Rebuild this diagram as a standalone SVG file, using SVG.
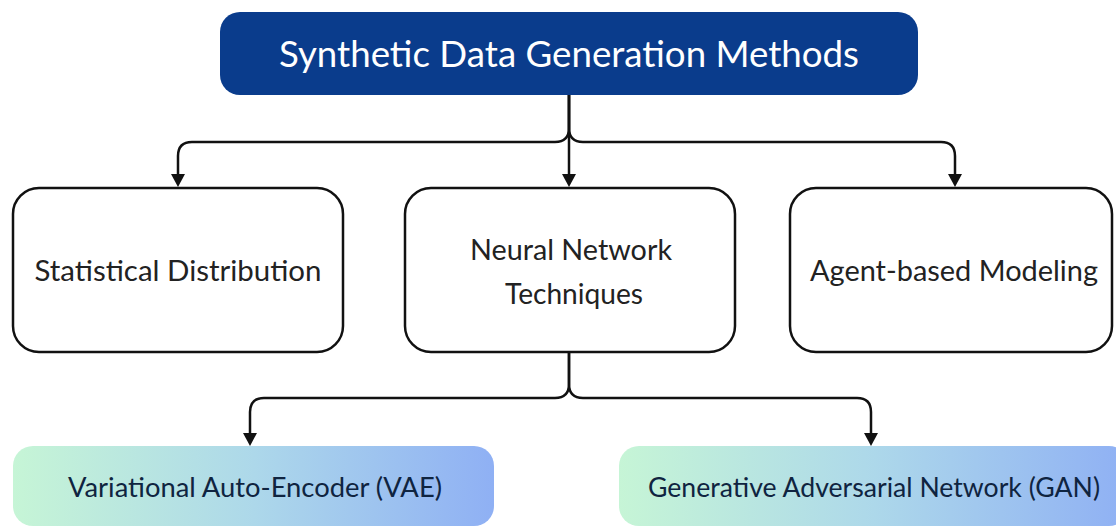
<svg xmlns="http://www.w3.org/2000/svg" width="1116" height="526" viewBox="0 0 1116 526">
<style>
.box{fill:#ffffff;stroke:#111111;stroke-width:2.5}
.lbl{font-family:Lato,"Open Sans","DejaVu Sans",sans-serif;font-size:29px;fill:#222222;text-anchor:middle}
.leaf{font-family:Lato,"Open Sans","DejaVu Sans",sans-serif;font-size:27px;fill:#0f2440;text-anchor:middle}
.conn{fill:none;stroke:#111111;stroke-width:2.5}
.head{fill:#111111}
</style>
<defs>
<linearGradient id="grad" x1="0" y1="0" x2="1" y2="0">
<stop offset="0" stop-color="#c6f5d6"/>
<stop offset="0.5" stop-color="#add8ea"/>
<stop offset="1" stop-color="#8fb0f4"/>
</linearGradient>
</defs>
<rect width="1116" height="526" fill="#ffffff"/>
<g id="connectors">
<path class="conn" d="M569,95 V128 Q569,142 555,142 H192 Q178,142 178,156 V175"/>
<path class="conn" d="M569,95 V128 Q569,142 583,142 H941 Q955,142 955,156 V175"/>
<path class="conn" d="M569,95 V175"/>
<path class="conn" d="M569,352 V384 Q569,398 555,398 H264 Q250,398 250,412 V434"/>
<path class="conn" d="M569,352 V384 Q569,398 583,398 H857 Q871,398 871,412 V434"/>
<path class="head" d="M171,174 L185,174 L178,187 Z"/>
<path class="head" d="M562,174 L576,174 L569,187 Z"/>
<path class="head" d="M948,174 L962,174 L955,187 Z"/>
<path class="head" d="M243,433 L257,433 L250,446 Z"/>
<path class="head" d="M864,433 L878,433 L871,446 Z"/>
</g>
<g id="root">
<rect x="220" y="12" width="698" height="83" rx="20" fill="#0a3c8c"/>
<text x="569" y="67" font-family="Lato,'Open Sans','DejaVu Sans',sans-serif" font-size="36" fill="#ffffff" text-anchor="middle" textLength="580" lengthAdjust="spacingAndGlyphs">Synthetic Data Generation Methods</text>
</g>
<g id="statistical">
<rect class="box" x="13" y="188" width="330" height="164" rx="26"/>
<text class="lbl" x="178" y="281" textLength="287" lengthAdjust="spacingAndGlyphs">Statistical Distribution</text>
</g>
<g id="neural">
<rect class="box" x="405" y="188" width="330" height="164" rx="26"/>
<text class="lbl" x="571" y="260" textLength="202" lengthAdjust="spacingAndGlyphs">Neural Network</text>
<text class="lbl" x="574" y="304" textLength="138" lengthAdjust="spacingAndGlyphs">Techniques</text>
</g>
<g id="agent">
<rect class="box" x="790" y="188" width="322" height="164" rx="26"/>
<text class="lbl" x="954" y="281" textLength="288" lengthAdjust="spacingAndGlyphs">Agent-based Modeling</text>
</g>
<g id="vae">
<rect x="13" y="446" width="481" height="80" rx="20" fill="url(#grad)"/>
<text class="leaf" x="255" y="497" textLength="374" lengthAdjust="spacingAndGlyphs">Variational Auto-Encoder (VAE)</text>
</g>
<g id="gan">
<rect x="619" y="446" width="510" height="80" rx="20" fill="url(#grad)"/>
<text class="leaf" x="874" y="497" textLength="452" lengthAdjust="spacingAndGlyphs">Generative Adversarial Network (GAN)</text>
</g>
</svg>
